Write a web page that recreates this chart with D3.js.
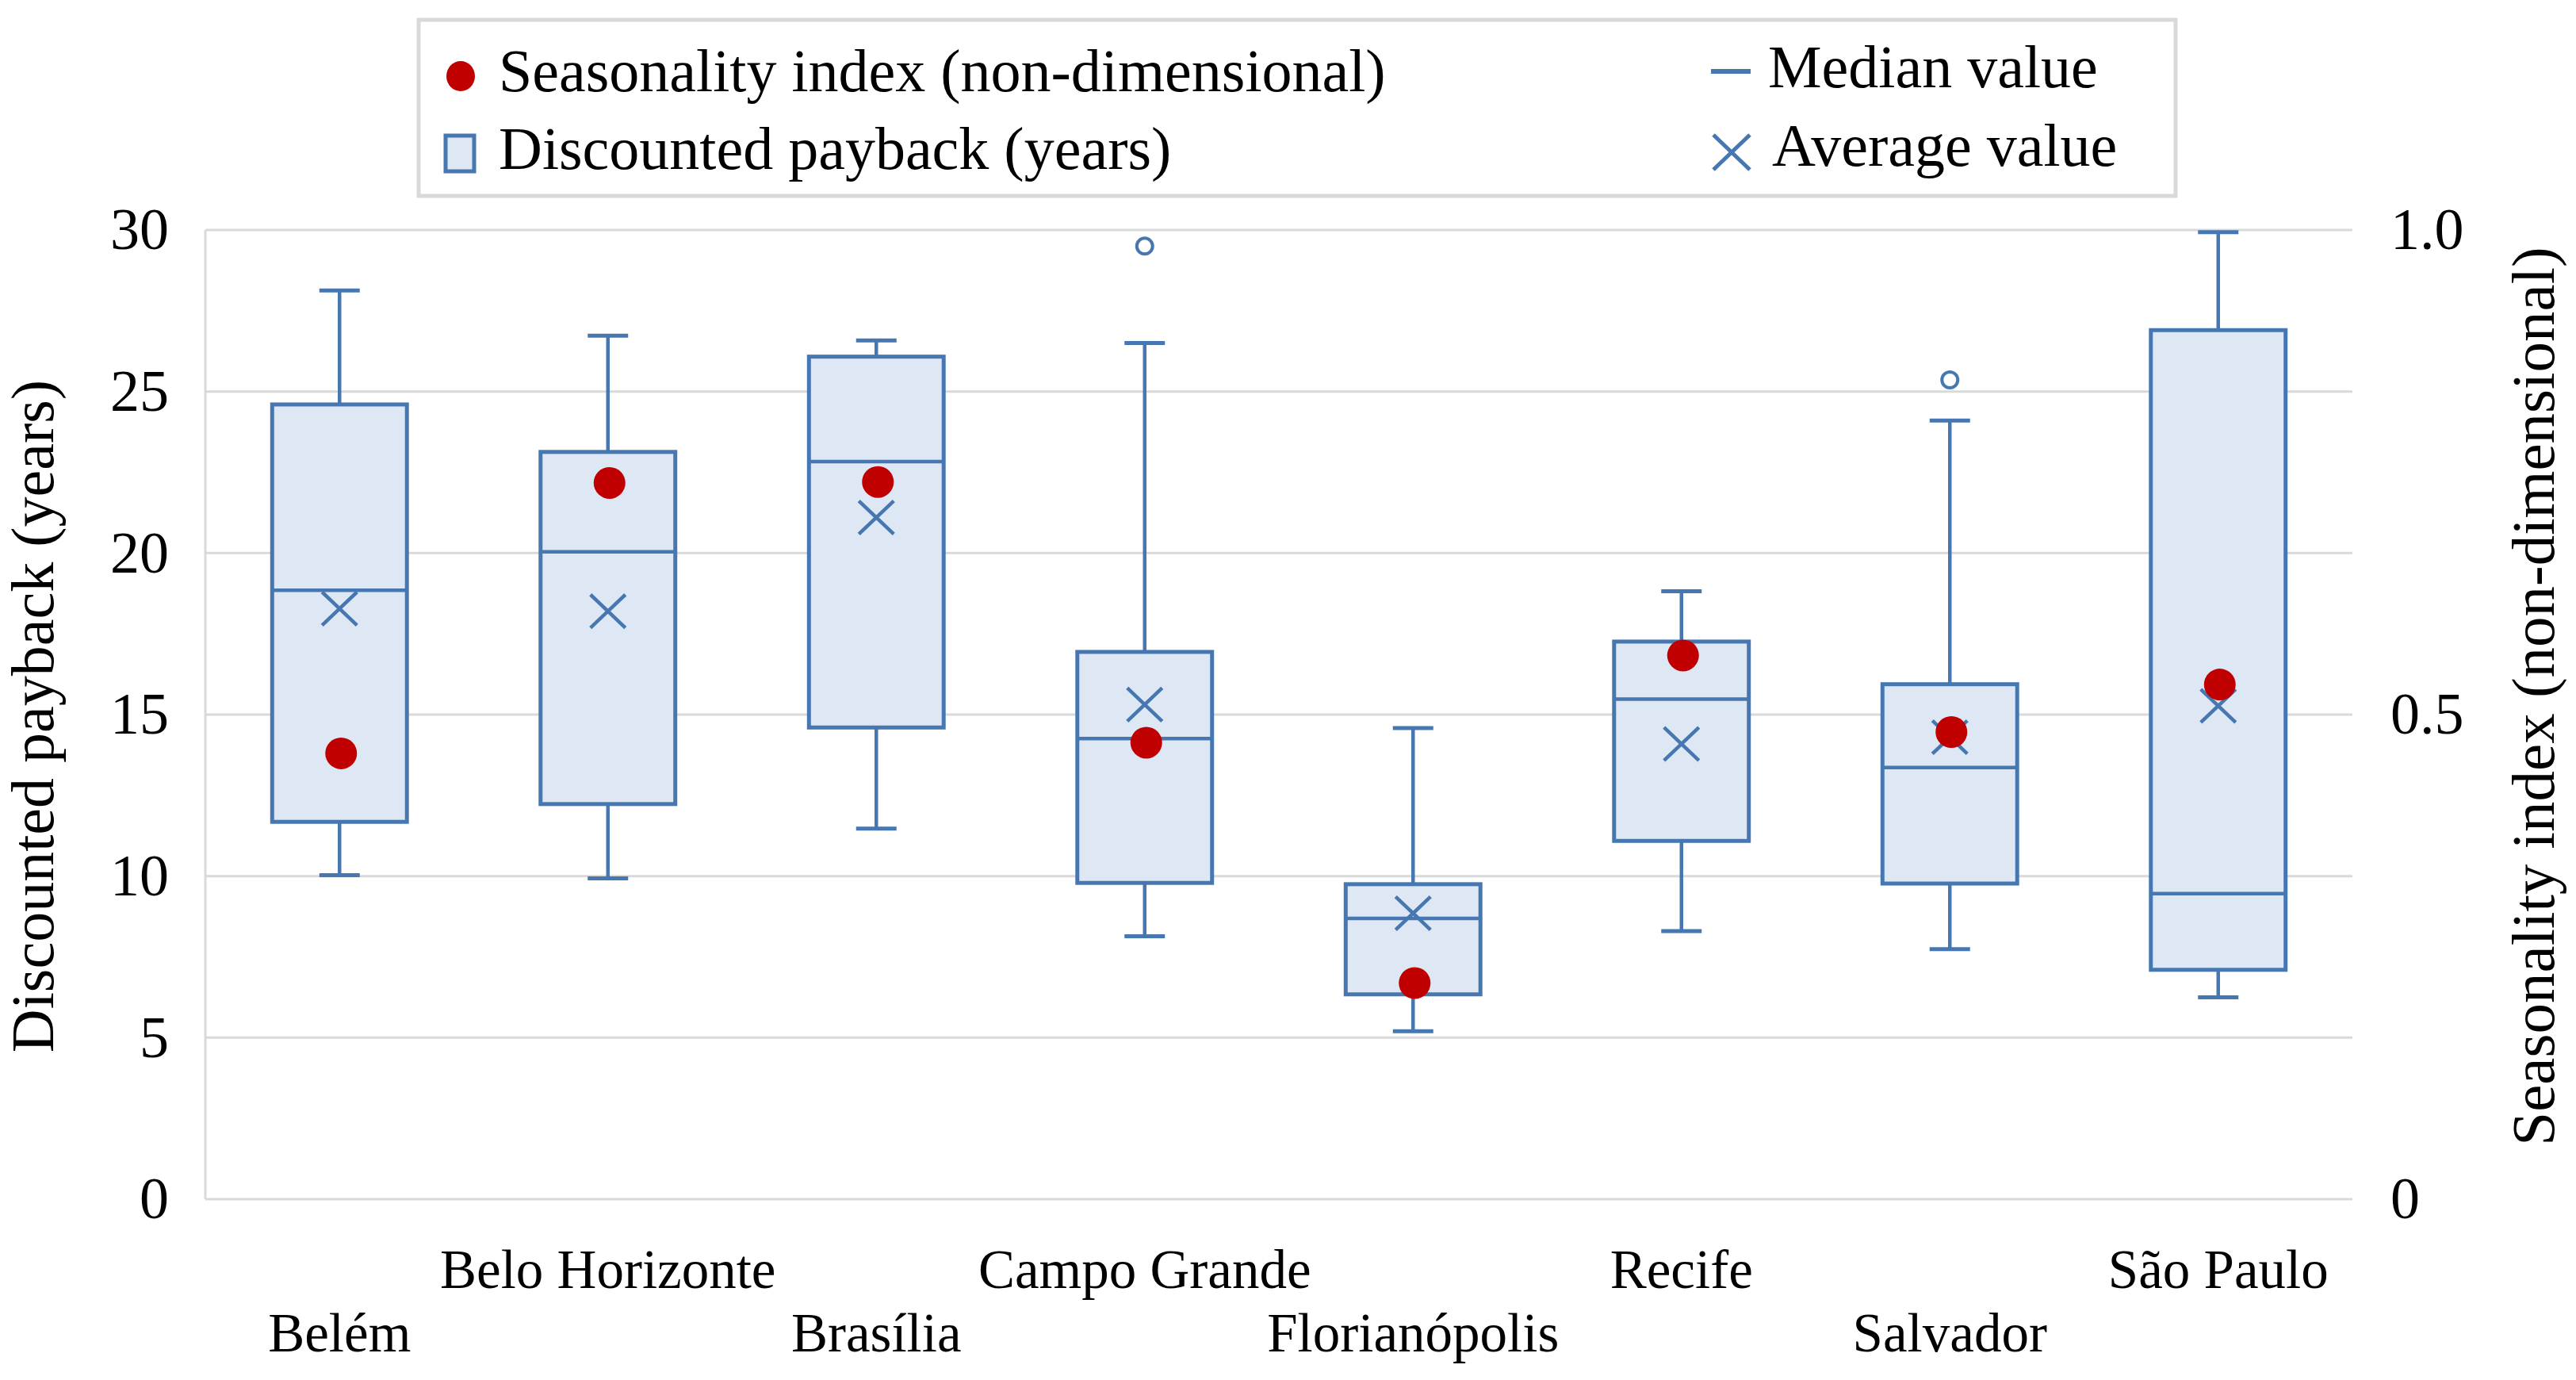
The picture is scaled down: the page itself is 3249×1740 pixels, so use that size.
<!DOCTYPE html>
<html>
<head>
<meta charset="utf-8">
<script src="https://cdn.jsdelivr.net/npm/d3@7"></script>
<style>
  html, body { margin: 0; padding: 0; background: #fff; }
  svg { display: block; }
  text { font-family: "Liberation Serif", "Times New Roman", serif; fill: #000; }
</style>
</head>
<body>
<svg id="chart" width="3249" height="1740"></svg>
<script>
// ---- Data ----
const cities = ["Belém", "Belo Horizonte", "Brasília", "Campo Grande", "Florianópolis", "Recife", "Salvador", "São Paulo"];
const whiskerLow  = [10.03, 9.93, 11.47, 8.14, 5.20, 8.30, 7.74, 6.25];
const q1          = [11.68, 12.23, 14.60, 9.79, 6.34, 11.09, 9.77, 7.10];
const median      = [18.85, 20.04, 22.83, 14.26, 8.69, 15.48, 13.36, 9.46];
const q3          = [24.60, 23.13, 26.08, 16.94, 9.75, 17.26, 15.94, 26.90];
const whiskerHigh = [28.13, 26.73, 26.58, 26.50, 14.58, 18.82, 24.10, 29.93];
const average     = [18.28, 18.20, 21.10, 15.31, 8.85, 14.09, 14.30, 15.27];
const outliers    = [[], [], [], [29.5], [], [], [25.36], []];
const seasonality = [0.460, 0.739, 0.740, 0.471, 0.223, 0.561, 0.482, 0.531];
const leftTicks   = [0, 5, 10, 15, 20, 25, 30];
const rightTicks  = [0, 0.5, 1.0];
const rightTickLabels = ["0", "0.5", "1.0"];

// ---- Styles ----
const BLUE = "#4677b0";
const FILL = "#dee8f5";
const RED = "#c00000";
const GRID = "#d9d9d9";

const svg = d3.select("#chart");
const M = { left: 259, right: 2967, top: 290, bottom: 1512 };

const x = d3.scaleBand().domain(cities).range([M.left, M.right]).paddingInner(0).paddingOuter(0);
const y = d3.scaleLinear().domain([0, 30]).range([M.bottom, M.top]);
const y2 = d3.scaleLinear().domain([0, 1]).range([M.bottom, M.top]);

const boxW = x.bandwidth() * 0.502;
const capW = 51;
const cx = c => x(c) + x.bandwidth() / 2;

// gridlines
svg.append("g").selectAll("line").data(leftTicks).join("line")
  .attr("x1", M.left).attr("x2", M.right)
  .attr("y1", d => y(d)).attr("y2", d => y(d))
  .attr("stroke", GRID).attr("stroke-width", 3);
// left vertical line
svg.append("line").attr("x1", M.left).attr("x2", M.left).attr("y1", M.top).attr("y2", M.bottom)
  .attr("stroke", GRID).attr("stroke-width", 3);

// left axis
const gL = svg.append("g").attr("transform", `translate(${M.left - 46},0)`)
  .call(d3.axisLeft(y).tickValues(leftTicks).tickSize(0).tickPadding(0).tickFormat(d3.format("d")));
gL.select(".domain").remove();
gL.selectAll("text").attr("font-size", 74).attr("font-family", "Liberation Serif").attr("fill", "#000");

// right axis
const gR = svg.append("g").attr("transform", `translate(${M.right + 48},0)`)
  .call(d3.axisRight(y2).tickValues(rightTicks).tickSize(0).tickPadding(0).tickFormat((d, i) => rightTickLabels[i]));
gR.select(".domain").remove();
gR.selectAll("text").attr("font-size", 74).attr("font-family", "Liberation Serif").attr("fill", "#000");

// axis titles
svg.append("text").attr("transform", `translate(67,903) rotate(-90)`)
  .attr("text-anchor", "middle").attr("font-size", 76).text("Discounted payback (years)");
svg.append("text").attr("transform", `translate(3221,878) rotate(-90)`)
  .attr("text-anchor", "middle").attr("font-size", 77).text("Seasonality index (non-dimensional)");

// x labels (staggered)
svg.append("g").selectAll("text").data(cities).join("text")
  .attr("x", d => cx(d))
  .attr("y", (d, i) => i % 2 === 0 ? 1704 : 1624)
  .attr("text-anchor", "middle").attr("font-size", 69).text(d => d);

// boxes
const data = cities.map((c, i) => ({ c, lo: whiskerLow[i], q1: q1[i], med: median[i], q3: q3[i], hi: whiskerHigh[i], avg: average[i], out: outliers[i], s: seasonality[i] }));
const gB = svg.append("g");
const bx = gB.selectAll("g").data(data).join("g");

// whiskers
bx.append("line").attr("x1", d => cx(d.c)).attr("x2", d => cx(d.c))
  .attr("y1", d => y(d.hi)).attr("y2", d => y(d.q3)).attr("stroke", BLUE).attr("stroke-width", 4.5);
bx.append("line").attr("x1", d => cx(d.c)).attr("x2", d => cx(d.c))
  .attr("y1", d => y(d.q1)).attr("y2", d => y(d.lo)).attr("stroke", BLUE).attr("stroke-width", 4.5);
bx.append("line").attr("x1", d => cx(d.c) - capW / 2).attr("x2", d => cx(d.c) + capW / 2)
  .attr("y1", d => y(d.hi)).attr("y2", d => y(d.hi)).attr("stroke", BLUE).attr("stroke-width", 5);
bx.append("line").attr("x1", d => cx(d.c) - capW / 2).attr("x2", d => cx(d.c) + capW / 2)
  .attr("y1", d => y(d.lo)).attr("y2", d => y(d.lo)).attr("stroke", BLUE).attr("stroke-width", 5);
// box
bx.append("rect").attr("x", d => cx(d.c) - boxW / 2).attr("width", boxW)
  .attr("y", d => y(d.q3)).attr("height", d => y(d.q1) - y(d.q3))
  .attr("fill", FILL).attr("stroke", BLUE).attr("stroke-width", 5);
// median
bx.append("line").attr("x1", d => cx(d.c) - boxW / 2).attr("x2", d => cx(d.c) + boxW / 2)
  .attr("y1", d => y(d.med)).attr("y2", d => y(d.med)).attr("stroke", BLUE).attr("stroke-width", 4.5);
// average x
const xs = 22;
bx.append("path").attr("d", d => {
  const X = cx(d.c), Y = y(d.avg);
  return `M${X - xs},${Y - xs * 0.95}L${X + xs},${Y + xs * 0.95}M${X - xs},${Y + xs * 0.95}L${X + xs},${Y - xs * 0.95}`;
}).attr("stroke", BLUE).attr("stroke-width", 4.5).attr("fill", "none");
// outliers
bx.selectAll("circle.out").data(d => d.out.map(v => ({ c: d.c, v }))).join("circle")
  .attr("class", "out").attr("cx", d => cx(d.c)).attr("cy", d => y(d.v)).attr("r", 10)
  .attr("fill", "#fff").attr("stroke", BLUE).attr("stroke-width", 4);
// seasonality dots
svg.append("g").selectAll("circle").data(data).join("circle")
  .attr("cx", d => cx(d.c) + 2).attr("cy", d => y2(d.s)).attr("r", 20).attr("fill", RED);

// legend
const lg = svg.append("g");
lg.append("rect").attr("x", 528).attr("y", 25).attr("width", 2216).attr("height", 222)
  .attr("fill", "#fff").attr("stroke", GRID).attr("stroke-width", 5);
lg.append("ellipse").attr("cx", 581).attr("cy", 96).attr("rx", 18).attr("ry", 19).attr("fill", RED);
lg.append("text").attr("x", 629).attr("y", 115).attr("font-size", 76).text("Seasonality index (non-dimensional)");
lg.append("rect").attr("x", 562).attr("y", 171).attr("width", 36).attr("height", 45)
  .attr("fill", FILL).attr("stroke", BLUE).attr("stroke-width", 5);
lg.append("text").attr("x", 629).attr("y", 213).attr("font-size", 76).text("Discounted payback (years)");
lg.append("line").attr("x1", 2158).attr("x2", 2208).attr("y1", 90).attr("y2", 90)
  .attr("stroke", BLUE).attr("stroke-width", 6);
lg.append("text").attr("x", 2230).attr("y", 110).attr("font-size", 76).text("Median value");
lg.append("path").attr("d", "M2161,170L2207,214M2161,214L2207,170")
  .attr("stroke", BLUE).attr("stroke-width", 5).attr("fill", "none");
lg.append("text").attr("x", 2235).attr("y", 209).attr("font-size", 76).text("Average value");
</script>
</body>
</html>
